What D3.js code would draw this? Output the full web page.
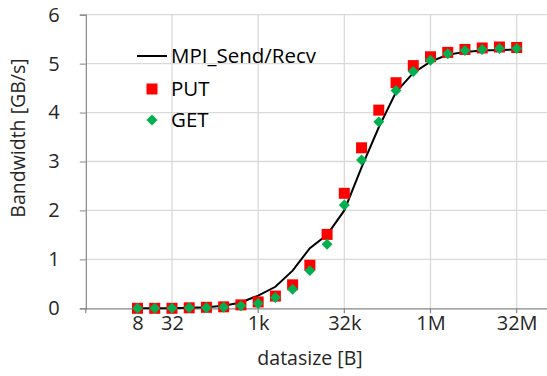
<!DOCTYPE html>
<html><head><meta charset="utf-8">
<script src="https://cdn.jsdelivr.net/npm/d3@7"></script>
<style>body{margin:0;background:#fff}svg{display:block}text{font-family:"Open Sans",sans-serif}</style>
</head><body>
<svg id="c" width="547" height="376"></svg>
<script>
const sizes = [8,16,32,64,128,256,512,1024,2048,4096,8192,16384,32768,65536,131072,262144,524288,1048576,2097152,4194304,8388608,16777216,33554432];
const mpi = [0,0,0,0.01,0.02,0.05,0.12,0.26,0.44,0.77,1.23,1.5,2.0,2.88,3.7,4.42,4.81,5.04,5.18,5.24,5.27,5.28,5.29];
const put = [0,0,0,0.01,0.02,0.03,0.07,0.13,0.25,0.48,0.88,1.51,2.35,3.28,4.05,4.61,4.96,5.14,5.23,5.29,5.32,5.34,5.33];
const get = [0,0,0,0.01,0.01,0.02,0.05,0.1,0.22,0.39,0.77,1.31,2.11,3.03,3.81,4.45,4.84,5.07,5.2,5.27,5.29,5.31,5.31];
const xTickVals = [8,32,1024,32768,1048576,33554432];
const xTickLabels = ["8","32","1k","32k","1M","32M"];
const xGridVals = [32,1024,32768,1048576,33554432];
const yTicks = [0,1,2,3,4,5,6];
const seriesNames = ["MPI_Send/Recv","PUT","GET"];

const svg = d3.select("#c");
const x = d3.scaleLog().base(2).domain([1, Math.pow(2,27)]).range([85.8, 85.8+27*17.235]);
const y = d3.scaleLinear().domain([0,6]).range([308.3,14.7]);
const xr = 547;

// grid
svg.append("g").selectAll("line").data(yTicks.filter(d=>d>0)).join("line")
  .attr("x1",x(1)).attr("x2",xr).attr("y1",d=>y(d)).attr("y2",d=>y(d))
  .attr("stroke","#d9d9d9").attr("stroke-width",1.3);
svg.append("g").selectAll("line").data(xGridVals).join("line")
  .attr("x1",d=>x(d)).attr("x2",d=>x(d)).attr("y1",y(0)).attr("y2",y(6))
  .attr("stroke","#d9d9d9").attr("stroke-width",1.3);

// axes
const yAxis = svg.append("g").attr("transform",`translate(${x(1)},0)`)
  .call(d3.axisLeft(y).tickValues(yTicks).tickFormat(d3.format("d")).tickSize(6).tickPadding(20));
yAxis.select(".domain").attr("stroke","#868686").attr("stroke-width",1.2);
yAxis.selectAll(".tick line").attr("stroke","#868686");
yAxis.selectAll(".tick text").attr("font-size",20).attr("fill","#262626").attr("font-family","Open Sans");

const xAxis = svg.append("g").attr("transform",`translate(0,${y(0)})`)
  .call(d3.axisBottom(x).tickValues(xTickVals).tickFormat((d,i)=>xTickLabels[i]).tickSize(0).tickPadding(8));
xAxis.select(".domain").attr("stroke","#868686").attr("stroke-width",1.2).attr("d",`M${x(1)},0.5H${xr}`);
xAxis.selectAll(".tick text").attr("font-size",20).attr("fill","#262626").attr("font-family","Open Sans");
svg.append("g").selectAll("line").data([1].concat(xGridVals)).join("line")
  .attr("x1",d=>x(d)).attr("x2",d=>x(d)).attr("y1",y(0)).attr("y2",y(0)+5)
  .attr("stroke","#868686").attr("stroke-width",1.2);

// titles
svg.append("text").attr("x",310).attr("y",365).attr("text-anchor","middle")
  .attr("font-size",19.5).attr("fill","#262626").text("datasize [B]");
svg.append("text").attr("transform","translate(25,138) rotate(-90)").attr("text-anchor","middle")
  .attr("font-size",19.5).attr("fill","#262626").text("Bandwidth [GB/s]");

// series
const line = d3.line().x((d,i)=>x(sizes[i])).y(d=>y(d));
svg.append("path").datum(mpi).attr("d",line).attr("fill","none").attr("stroke","#000").attr("stroke-width",2);
const sq = 11;
svg.append("g").selectAll("rect").data(put).join("rect")
  .attr("x",(d,i)=>x(sizes[i])-sq/2).attr("y",d=>y(d)-sq/2).attr("width",sq).attr("height",sq).attr("fill","#ff0000");
const diamond = d3.symbol().type(d3.symbolSquare).size(60)();
svg.append("g").selectAll("path").data(get).join("path")
  .attr("transform",(d,i)=>`translate(${x(sizes[i])},${y(d)}) rotate(45)`)
  .attr("d",diamond).attr("fill","#00b050");

// legend
const lg = svg.append("g");
lg.append("line").attr("x1",137).attr("x2",167).attr("y1",56).attr("y2",56).attr("stroke","#000").attr("stroke-width",2);
lg.append("rect").attr("x",152-sq/2).attr("y",89-sq/2).attr("width",sq).attr("height",sq).attr("fill","#ff0000");
lg.append("path").attr("transform","translate(152,120) rotate(45)").attr("d",diamond).attr("fill","#00b050");
lg.selectAll("text").data(seriesNames).join("text")
  .attr("x",171).attr("y",(d,i)=>[56,89,120][i]).attr("dy","0.35em")
  .attr("font-size",20.5).attr("fill","#000").text(d=>d);
</script>
</body></html>
